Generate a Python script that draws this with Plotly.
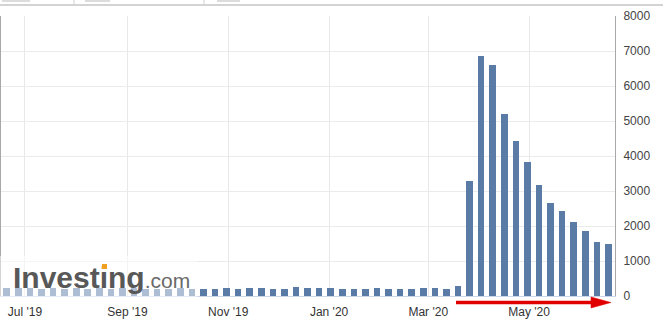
import pandas as pd
import plotly.graph_objects as go

# Weekly release dates (Thursdays) and values (thousands)
start_date = "2019-06-20"
n_weeks = 53
dates = pd.date_range(start_date, periods=n_weeks, freq="7D")
values = [216, 227, 221, 209, 216, 206, 215, 209, 220, 209, 217, 217, 204, 208,
          213, 219, 210, 214, 212, 218, 211, 225, 227, 213, 203, 252, 234, 222,
          222, 214, 204, 211, 216, 202, 206, 210, 219, 216, 211, 281,
          3300, 6850, 6600, 5200, 4420, 3830, 3160, 2650, 2440, 2110, 1870, 1550, 1500]
x_ticks = ["2019-07-01", "2019-09-01", "2019-11-01", "2020-01-01", "2020-03-01", "2020-05-01"]
y_ticks = [0, 1000, 2000, 3000, 4000, 5000, 6000, 7000, 8000]

W, H = 663, 333
L, R, T, B = 1, 48, 16, 37
pw, ph = W - L - R, H - T - B

def px(x):
    return (x - L) / pw

def py(y):
    return (H - B - y) / ph

fig = go.Figure()
fig.add_trace(go.Bar(
    x=dates, y=values,
    width=4 * 24 * 3600 * 1000,
    marker=dict(color="#5b7ba7", line=dict(width=0)),
    hoverinfo="x+y",
))

font_family = "Liberation Sans, Arial, sans-serif"

shapes = []
# white translucent panel behind the logo
shapes.append(dict(type="rect", xref="paper", yref="paper", layer="above",
                   x0=px(0), x1=px(197), y0=py(301), y1=py(256),
                   fillcolor="rgba(255,255,255,0.5)", line=dict(width=0)))
# top UI line
shapes.append(dict(type="line", xref="paper", yref="paper",
                   x0=px(0), x1=px(663), y0=py(5), y1=py(5),
                   line=dict(color="#c4c4c4", width=1.5)))
for a, b in [(2, 30), (85, 110), (217, 240)]:
    shapes.append(dict(type="line", xref="paper", yref="paper",
                       x0=px(a), x1=px(b), y0=py(1), y1=py(1),
                       line=dict(color="#d0d0d0", width=1.5)))
for a in [74, 204]:
    shapes.append(dict(type="line", xref="paper", yref="paper",
                       x0=px(a), x1=px(a), y0=py(0), y1=py(5),
                       line=dict(color="#d0d0d0", width=1)))
# red arrow
shapes.append(dict(type="line", xref="paper", yref="paper", layer="above",
                   x0=px(456), x1=px(596), y0=py(302.5), y1=py(302.5),
                   line=dict(color="#e00000", width=3.5)))
shapes.append(dict(type="path", xref="paper", yref="paper", layer="above",
                   path=f"M {px(591)} {py(297)} L {px(611)} {py(302.5)} L {px(591)} {py(308)} Z",
                   fillcolor="#e00000", line=dict(color="#e00000", width=0.5)))

annotations = [
    dict(xref="paper", yref="paper", x=px(11), y=py(277), xanchor="left", yanchor="middle",
         showarrow=False,
         text="<b>Investing</b><span style='font-size:21px;color:#6a6a6a'>.com</span>",
         font=dict(family=font_family, size=30, color="#585858")),
    # orange dot of the logo's "i"
    dict(xref="paper", yref="paper", x=px(104), y=py(266), xanchor="center", yanchor="middle",
         showarrow=False, text=" ", width=5, height=5, borderpad=0, borderwidth=0,
         bgcolor="#f0a020", font=dict(size=1)),
]

fig.update_layout(
    width=W, height=H,
    margin=dict(l=L, r=R, t=T, b=B, pad=0),
    paper_bgcolor="white", plot_bgcolor="white",
    showlegend=False,
    bargap=0,
    shapes=shapes,
    annotations=annotations,
    font=dict(family=font_family, size=12, color="#333333"),
    xaxis=dict(
        type="date",
        range=["2019-06-16 12:00", "2020-06-22 00:00"],
        tickvals=x_ticks,
        tickformat="%b '%y",
        showgrid=True, gridcolor="#e8e8e8", gridwidth=1,
        showline=True, linecolor="#ccd6eb", linewidth=1,
        ticks="outside", ticklen=5, tickcolor="rgba(0,0,0,0)",
        tickfont=dict(size=12, color="#333333"),
        zeroline=False, fixedrange=True,
    ),
    yaxis=dict(
        side="right",
        range=[0, 8000],
        tickvals=y_ticks,
        tickformat="d",
        showgrid=True, gridcolor="#ebebeb", gridwidth=1,
        showline=True, linecolor="#a8a8a8", linewidth=1, mirror=True,
        ticks="", ticklabelstandoff=5,
        tickfont=dict(size=12, color="#444444"),
        zeroline=False, fixedrange=True,
    ),
)

fig.write_html("out.html", config={"displayModeBar": False})
